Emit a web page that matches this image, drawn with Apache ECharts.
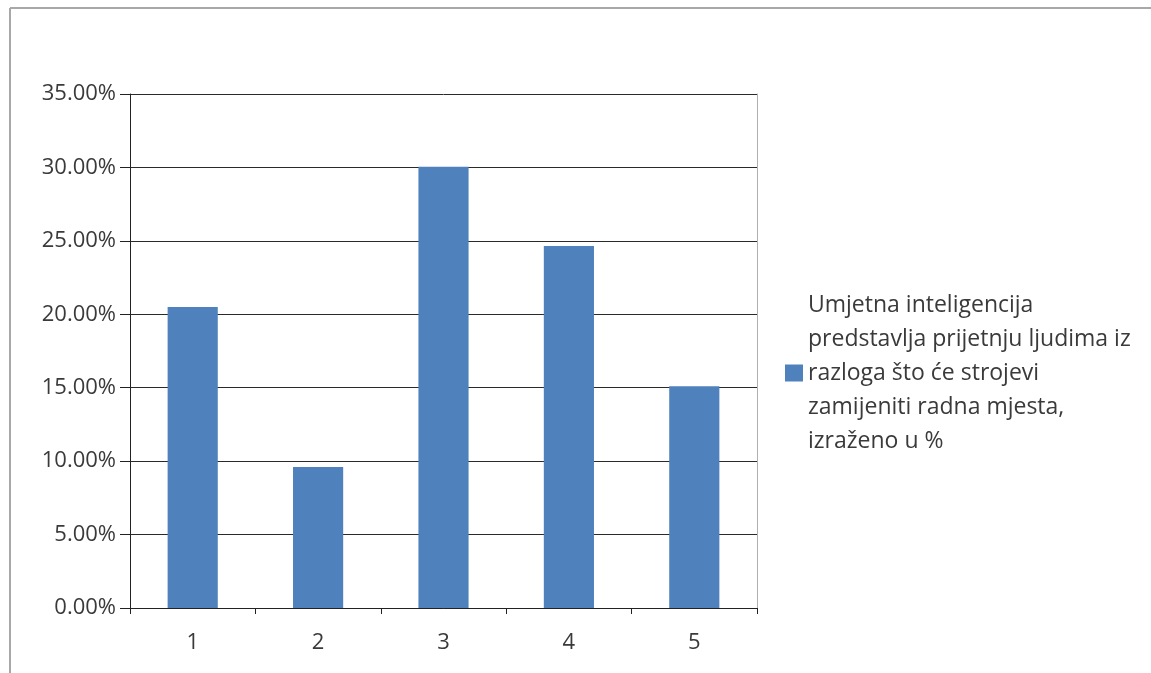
<!DOCTYPE html>
<html>
<head>
<meta charset="utf-8">
<script src="https://cdn.jsdelivr.net/npm/echarts@6/dist/echarts.min.js"></script>
<style>
html,body{margin:0;padding:0;background:#fff;}
#c{width:1151px;height:673px;}
</style>
</head>
<body>
<div id="c"></div>
<script>
const categories = ['1', '2', '3', '4', '5'];
const values = [20.5, 9.6, 30.05, 24.65, 15.1];
const seriesName = 'Umjetna inteligencija\npredstavlja prijetnju ljudima iz\nrazloga što će strojevi\nzamijeniti radna mjesta,\nizraženo u %';
const yMin = 0, yMax = 35, yStep = 5;

const font = 'Open Sans';
const chart = echarts.init(document.getElementById('c'), null, {renderer: 'canvas'});
chart.setOption({
  animation: false,
  backgroundColor: '#fff',
  textStyle: {fontFamily: font},
  grid: {left: 130, right: 394, top: 94, bottom: 65, containLabel: false},
  legend: {
    show: true,
    left: 780,
    top: 283,
    orient: 'vertical',
    icon: 'rect',
    itemWidth: 18,
    itemHeight: 17,
    itemGap: 0,
    selectedMode: false,
    textStyle: {fontFamily: font, fontSize: 23, color: '#3a3a3a', lineHeight: 34, padding: [0,0,0,0]},
    data: [seriesName]
  },
  xAxis: {
    type: 'category',
    data: categories,
    axisLine: {show: true, lineStyle: {color: '#222', width: 1}},
    axisTick: {show: true, length: 6, alignWithLabel: false, lineStyle: {color: '#222'}},
    axisLabel: {fontFamily: font, fontSize: 22, color: '#3a3a3a', margin: 24},
    splitLine: {show: false}
  },
  yAxis: [{
    type: 'value',
    min: yMin, max: yMax, interval: yStep,
    axisLine: {show: true, lineStyle: {color: '#222', width: 1}},
    axisTick: {show: true, length: 10, lineStyle: {color: '#222'}},
    axisLabel: {fontFamily: font, fontSize: 22, color: '#3a3a3a', margin: 14,
      formatter: v => v.toFixed(2) + '%'},
    splitLine: {show: true, lineStyle: {color: '#2a2a2a', width: 1}}
  }, {
    type: 'value',
    position: 'right',
    min: yMin, max: yMax, interval: yStep,
    axisLine: {show: true, lineStyle: {color: '#b0b0b0', width: 1}},
    axisTick: {show: false},
    axisLabel: {show: false},
    splitLine: {show: false}
  }],
  series: [{
    name: seriesName,
    type: 'bar',
    data: values,
    barWidth: '40%',
    itemStyle: {color: '#4F81BD'}
  }],
  graphic: [
    {type: 'line', shape: {x1: 10, y1: 8, x2: 1151, y2: 8}, style: {stroke: '#a8a8a8', lineWidth: 2}, silent: true},
    {type: 'line', shape: {x1: 10, y1: 8, x2: 10, y2: 673}, style: {stroke: '#a8a8a8', lineWidth: 2}, silent: true}
  ]
});
</script>
</body>
</html>
